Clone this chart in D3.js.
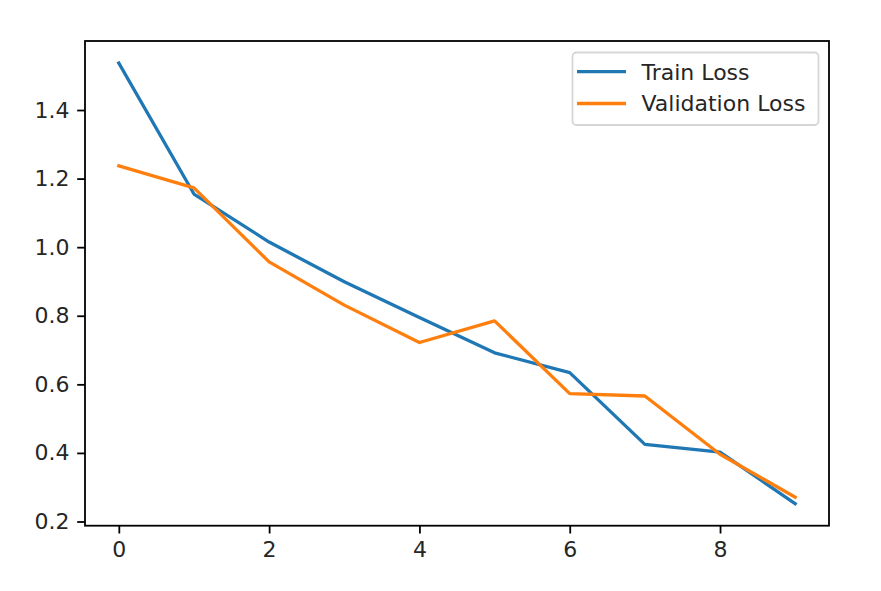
<!DOCTYPE html>
<html>
<head>
<meta charset="utf-8">
<script src="https://cdn.jsdelivr.net/npm/d3@7"></script>
<style>
  html, body { margin: 0; padding: 0; background: #fff; }
  svg { display: block; }
  text { font-family: "DejaVu Sans", sans-serif; }
</style>
</head>
<body>
<svg id="chart" width="881" height="591"></svg>
<script>
const epochs = [0, 1, 2, 3, 4, 5, 6, 7, 8, 9];
const trainLoss = [1.537, 1.155, 1.015, 0.899, 0.795, 0.692, 0.634, 0.425, 0.402, 0.252];
const valLoss = [1.237, 1.173, 0.957, 0.831, 0.722, 0.785, 0.573, 0.566, 0.396, 0.271];
const xTicks = [0, 2, 4, 6, 8];
const yTicks = [0.2, 0.4, 0.6, 0.8, 1.0, 1.2, 1.4];
const seriesNames = ["Train Loss", "Validation Loss"];
const colors = ["#1f77b4", "#ff7f0e"];

const svg = d3.select("#chart");
const L = 85, R = 829, T = 41, B = 525.7;
const fs = 22, tickLen = 7.8, pad = 7.8;

const allY = trainLoss.concat(valLoss);
const yMin = d3.min(allY), yMax = d3.max(allY);
const ym = (yMax - yMin) * 0.05;
const xm = (d3.max(epochs) - d3.min(epochs)) * 0.05;

const x = d3.scaleLinear().domain([d3.min(epochs) - xm, d3.max(epochs) + xm]).range([L, R]);
const y = d3.scaleLinear().domain([yMin - ym, yMax + ym]).range([B, T]);

// lines
const line = d3.line().x((d, i) => x(epochs[i])).y(d => y(d));
[trainLoss, valLoss].forEach((s, k) => {
  svg.append("path")
    .datum(s)
    .attr("d", line)
    .attr("fill", "none")
    .attr("stroke", colors[k])
    .attr("stroke-width", 3.3)
    .attr("stroke-linejoin", "round")
    .attr("stroke-linecap", "square");
});

// axes
const xAxis = d3.axisBottom(x).tickValues(xTicks).tickFormat(d3.format("d")).tickSizeInner(tickLen).tickSizeOuter(0).tickPadding(pad);
const yAxis = d3.axisLeft(y).tickValues(yTicks).tickFormat(d3.format(".1f")).tickSizeInner(tickLen).tickSizeOuter(0).tickPadding(pad);

const gx = svg.append("g").attr("transform", `translate(0,${B})`).call(xAxis);
const gy = svg.append("g").attr("transform", `translate(${L},0)`).call(yAxis);
[gx, gy].forEach(g => {
  g.select(".domain").remove();
  g.selectAll(".tick line").attr("stroke", "#000").attr("stroke-width", 1.8);
  g.selectAll(".tick text").attr("fill", "#262626").style("font-size", fs + "px").style("font-family", "DejaVu Sans, sans-serif");
});

// frame
svg.append("rect")
  .attr("x", L).attr("y", T).attr("width", R - L).attr("height", B - T)
  .attr("fill", "none").attr("stroke", "#000").attr("stroke-width", 1.8);

// legend
const lg = svg.append("g");
lg.append("rect")
  .attr("x", 572.5).attr("y", 52.5).attr("width", 246).attr("height", 72.5)
  .attr("rx", 4).attr("ry", 4)
  .attr("fill", "#fff").attr("fill-opacity", 0.8)
  .attr("stroke", "#d6d6d6").attr("stroke-width", 1.8);
seriesNames.forEach((n, i) => {
  const cy = 71.7 + i * 31.8;
  lg.append("line")
    .attr("x1", 577).attr("x2", 626).attr("y1", cy).attr("y2", cy)
    .attr("stroke", colors[i]).attr("stroke-width", 3.3);
  lg.append("text")
    .attr("x", 641.5).attr("y", cy).attr("dy", "0.36em")
    .attr("fill", "#262626").style("font-size", fs + "px")
    .text(n);
});
</script>
</body>
</html>
